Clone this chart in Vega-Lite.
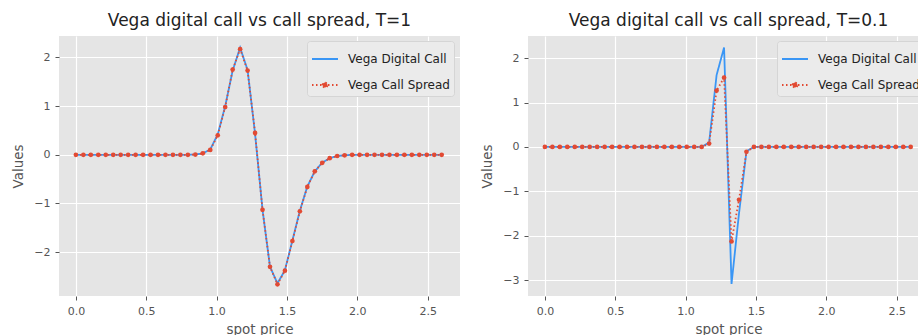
{
  "$schema": "https://vega.github.io/schema/vega-lite/v6.json",
  "padding": {"left": 11, "top": 12, "right": 0, "bottom": 0},
  "background": "#FFFFFF",
  "datasets": {
    "t1": [
      {"spot": 0, "digital": 0, "spread": 0},
      {"spot": 0.0531, "digital": 0, "spread": 0},
      {"spot": 0.1061, "digital": 0, "spread": 0},
      {"spot": 0.1592, "digital": 0, "spread": 0},
      {"spot": 0.2122, "digital": 0, "spread": 0},
      {"spot": 0.2653, "digital": 0, "spread": 0},
      {"spot": 0.3184, "digital": 0, "spread": 0},
      {"spot": 0.3714, "digital": 0, "spread": 0},
      {"spot": 0.4245, "digital": 0, "spread": 0},
      {"spot": 0.4776, "digital": 0, "spread": 0},
      {"spot": 0.5306, "digital": 0, "spread": 0},
      {"spot": 0.5837, "digital": 0, "spread": 0},
      {"spot": 0.6367, "digital": 0, "spread": 0},
      {"spot": 0.6898, "digital": 0, "spread": 0},
      {"spot": 0.7429, "digital": 0, "spread": 0},
      {"spot": 0.7959, "digital": 0, "spread": 0},
      {"spot": 0.849, "digital": 0.005, "spread": 0.005},
      {"spot": 0.902, "digital": 0.03, "spread": 0.03},
      {"spot": 0.9551, "digital": 0.11, "spread": 0.1},
      {"spot": 1.0082, "digital": 0.42, "spread": 0.4},
      {"spot": 1.0612, "digital": 1.0, "spread": 0.98},
      {"spot": 1.1143, "digital": 1.73, "spread": 1.75},
      {"spot": 1.1673, "digital": 2.2, "spread": 2.17},
      {"spot": 1.2204, "digital": 1.74, "spread": 1.73},
      {"spot": 1.2735, "digital": 0.43, "spread": 0.45},
      {"spot": 1.3265, "digital": -1.13, "spread": -1.13},
      {"spot": 1.3796, "digital": -2.3, "spread": -2.3},
      {"spot": 1.4327, "digital": -2.64, "spread": -2.66},
      {"spot": 1.4857, "digital": -2.37, "spread": -2.38},
      {"spot": 1.5388, "digital": -1.76, "spread": -1.77},
      {"spot": 1.5918, "digital": -1.15, "spread": -1.16},
      {"spot": 1.6449, "digital": -0.65, "spread": -0.66},
      {"spot": 1.698, "digital": -0.34, "spread": -0.34},
      {"spot": 1.751, "digital": -0.16, "spread": -0.165},
      {"spot": 1.8041, "digital": -0.07, "spread": -0.07},
      {"spot": 1.8571, "digital": -0.025, "spread": -0.025},
      {"spot": 1.9102, "digital": -0.01, "spread": -0.01},
      {"spot": 1.9633, "digital": 0, "spread": 0},
      {"spot": 2.0163, "digital": 0, "spread": 0},
      {"spot": 2.0694, "digital": 0, "spread": 0},
      {"spot": 2.1224, "digital": 0, "spread": 0},
      {"spot": 2.1755, "digital": 0, "spread": 0},
      {"spot": 2.2286, "digital": 0, "spread": 0},
      {"spot": 2.2816, "digital": 0, "spread": 0},
      {"spot": 2.3347, "digital": 0, "spread": 0},
      {"spot": 2.3878, "digital": 0, "spread": 0},
      {"spot": 2.4408, "digital": 0, "spread": 0},
      {"spot": 2.4939, "digital": 0, "spread": 0},
      {"spot": 2.5469, "digital": 0, "spread": 0},
      {"spot": 2.6, "digital": 0, "spread": 0}
    ],
    "t01": [
      {"spot": 0, "digital": 0, "spread": 0},
      {"spot": 0.0531, "digital": 0, "spread": 0},
      {"spot": 0.1061, "digital": 0, "spread": 0},
      {"spot": 0.1592, "digital": 0, "spread": 0},
      {"spot": 0.2122, "digital": 0, "spread": 0},
      {"spot": 0.2653, "digital": 0, "spread": 0},
      {"spot": 0.3184, "digital": 0, "spread": 0},
      {"spot": 0.3714, "digital": 0, "spread": 0},
      {"spot": 0.4245, "digital": 0, "spread": 0},
      {"spot": 0.4776, "digital": 0, "spread": 0},
      {"spot": 0.5306, "digital": 0, "spread": 0},
      {"spot": 0.5837, "digital": 0, "spread": 0},
      {"spot": 0.6367, "digital": 0, "spread": 0},
      {"spot": 0.6898, "digital": 0, "spread": 0},
      {"spot": 0.7429, "digital": 0, "spread": 0},
      {"spot": 0.7959, "digital": 0, "spread": 0},
      {"spot": 0.849, "digital": 0, "spread": 0},
      {"spot": 0.902, "digital": 0, "spread": 0},
      {"spot": 0.9551, "digital": 0, "spread": 0},
      {"spot": 1.0082, "digital": 0, "spread": 0},
      {"spot": 1.0612, "digital": 0, "spread": 0},
      {"spot": 1.1143, "digital": 0, "spread": 0},
      {"spot": 1.1673, "digital": 0.1, "spread": 0.075},
      {"spot": 1.2204, "digital": 1.62, "spread": 1.27},
      {"spot": 1.2735, "digital": 2.24, "spread": 1.56},
      {"spot": 1.3265, "digital": -3.09, "spread": -2.13},
      {"spot": 1.3796, "digital": -1.5, "spread": -1.19},
      {"spot": 1.4327, "digital": -0.1, "spread": -0.11},
      {"spot": 1.4857, "digital": 0, "spread": 0},
      {"spot": 1.5388, "digital": 0, "spread": 0},
      {"spot": 1.5918, "digital": 0, "spread": 0},
      {"spot": 1.6449, "digital": 0, "spread": 0},
      {"spot": 1.698, "digital": 0, "spread": 0},
      {"spot": 1.751, "digital": 0, "spread": 0},
      {"spot": 1.8041, "digital": 0, "spread": 0},
      {"spot": 1.8571, "digital": 0, "spread": 0},
      {"spot": 1.9102, "digital": 0, "spread": 0},
      {"spot": 1.9633, "digital": 0, "spread": 0},
      {"spot": 2.0163, "digital": 0, "spread": 0},
      {"spot": 2.0694, "digital": 0, "spread": 0},
      {"spot": 2.1224, "digital": 0, "spread": 0},
      {"spot": 2.1755, "digital": 0, "spread": 0},
      {"spot": 2.2286, "digital": 0, "spread": 0},
      {"spot": 2.2816, "digital": 0, "spread": 0},
      {"spot": 2.3347, "digital": 0, "spread": 0},
      {"spot": 2.3878, "digital": 0, "spread": 0},
      {"spot": 2.4408, "digital": 0, "spread": 0},
      {"spot": 2.4939, "digital": 0, "spread": 0},
      {"spot": 2.5469, "digital": 0, "spread": 0},
      {"spot": 2.6, "digital": 0, "spread": 0}
    ]
  },
  "spacing": 20,
  "hconcat": [
    {
      "title": "Vega digital call vs call spread, T=1",
      "width": 401,
      "height": 260,
      "data": {"name": "t1"},
      "transform": [{"fold": ["digital", "spread"], "as": ["series", "value"]}],
      "encoding": {
        "x": {"field": "spot", "type": "quantitative", "title": "spot price",
              "scale": {"domain": [-0.12, 2.73], "nice": false, "zero": false},
              "axis": {"values": [0, 0.5, 1, 1.5, 2, 2.5], "format": ".1f"}},
        "y": {"field": "value", "type": "quantitative", "title": "Values",
              "scale": {"domain": [-2.9, 2.44], "nice": false, "zero": false},
              "axis": {"values": [-2, -1, 0, 1, 2]}}
      },
      "layer": [
        {
          "mark": {"type": "line", "strokeWidth": 1.8},
          "encoding": {
            "color": {"field": "series", "type": "nominal",
                      "scale": {"domain": ["digital", "spread"], "range": ["#3A96F5", "#E24A33"]},
                      "legend": {"orient": "none", "legendX": 248, "legendY": 5,
                                 "labelExpr": "datum.label === 'digital' ? 'Vega Digital Call' : 'Vega Call Spread'",
                                 "encode": {"symbols": {"update": {
                                   "shape": {"signal": "datum.value === 'spread' ? 'M-1,0H1M-0.19,0A0.19,0.19 0 1,1 0.19,0A0.19,0.19 0 1,1 -0.19,0Z' : 'M-1,0H1'"},
                                   "fill": {"signal": "datum.value === 'spread' ? '#E24A33' : 'transparent'"}}}}}},
            "strokeDash": {"field": "series", "type": "nominal",
                           "scale": {"domain": ["digital", "spread"], "range": [[1, 0], [1.5, 2.5]]},
                           "legend": {"orient": "none", "legendX": 248, "legendY": 5,
                                      "labelExpr": "datum.label === 'digital' ? 'Vega Digital Call' : 'Vega Call Spread'"}}
          }
        },
        {
          "transform": [{"filter": "datum.series === 'spread'"}],
          "mark": {"type": "point", "filled": true, "size": 22, "opacity": 1, "color": "#E24A33"},
          "encoding": {}
        }
      ]
    },
    {
      "title": "Vega digital call vs call spread, T=0.1",
      "width": 401,
      "height": 260,
      "data": {"name": "t01"},
      "transform": [{"fold": ["digital", "spread"], "as": ["series", "value"]}],
      "encoding": {
        "x": {"field": "spot", "type": "quantitative", "title": "spot price",
              "scale": {"domain": [-0.12, 2.73], "nice": false, "zero": false},
              "axis": {"values": [0, 0.5, 1, 1.5, 2, 2.5], "format": ".1f"}},
        "y": {"field": "value", "type": "quantitative", "title": "Values",
              "scale": {"domain": [-3.36, 2.5], "nice": false, "zero": false},
              "axis": {"values": [-3, -2, -1, 0, 1, 2]}}
      },
      "layer": [
        {
          "mark": {"type": "line", "strokeWidth": 1.8},
          "encoding": {
            "color": {"field": "series", "type": "nominal",
                      "scale": {"domain": ["digital", "spread"], "range": ["#3A96F5", "#E24A33"]},
                      "legend": {"orient": "none", "legendX": 249, "legendY": 5,
                                 "labelExpr": "datum.label === 'digital' ? 'Vega Digital Call' : 'Vega Call Spread'",
                                 "encode": {"symbols": {"update": {
                                   "shape": {"signal": "datum.value === 'spread' ? 'M-1,0H1M-0.19,0A0.19,0.19 0 1,1 0.19,0A0.19,0.19 0 1,1 -0.19,0Z' : 'M-1,0H1'"},
                                   "fill": {"signal": "datum.value === 'spread' ? '#E24A33' : 'transparent'"}}}}}},
            "strokeDash": {"field": "series", "type": "nominal",
                           "scale": {"domain": ["digital", "spread"], "range": [[1, 0], [1.5, 2.5]]},
                           "legend": {"orient": "none", "legendX": 249, "legendY": 5,
                                      "labelExpr": "datum.label === 'digital' ? 'Vega Digital Call' : 'Vega Call Spread'"}}
          }
        },
        {
          "transform": [{"filter": "datum.series === 'spread'"}],
          "mark": {"type": "point", "filled": true, "size": 22, "opacity": 1, "color": "#E24A33"},
          "encoding": {}
        }
      ]
    }
  ],
  "resolve": {"scale": {"x": "independent", "y": "independent", "color": "independent", "strokeDash": "independent"}},
  "config": {
    "view": {"fill": "#E5E5E5", "stroke": null},
    "axis": {
      "grid": true, "gridColor": "#FFFFFF", "gridWidth": 1.2, "domain": false,
      "tickColor": "#555555", "tickSize": 4, "tickWidth": 1,
      "labelColor": "#555555", "labelFont": "DejaVu Sans", "labelFontSize": 11, "labelPadding": 5,
      "titleColor": "#555555", "titleFont": "DejaVu Sans", "titleFontSize": 13.5, "titleFontWeight": "normal"
    },
    "axisY": {"titlePadding": 8},
    "axisX": {"titlePadding": 6},
    "title": {"font": "DejaVu Sans", "fontSize": 17, "fontWeight": "normal", "color": "#222222", "offset": 6},
    "legend": {
      "title": null,
      "fillColor": "#EBEBEB", "strokeColor": "#D5D5D5", "cornerRadius": 3, "padding": 4,
      "labelFont": "DejaVu Sans", "labelFontSize": 12, "labelColor": "#222222", "labelOffset": 9,
      "symbolType": "stroke", "symbolSize": 676, "symbolStrokeWidth": 1.8, "rowPadding": 6
    }
  }
}
